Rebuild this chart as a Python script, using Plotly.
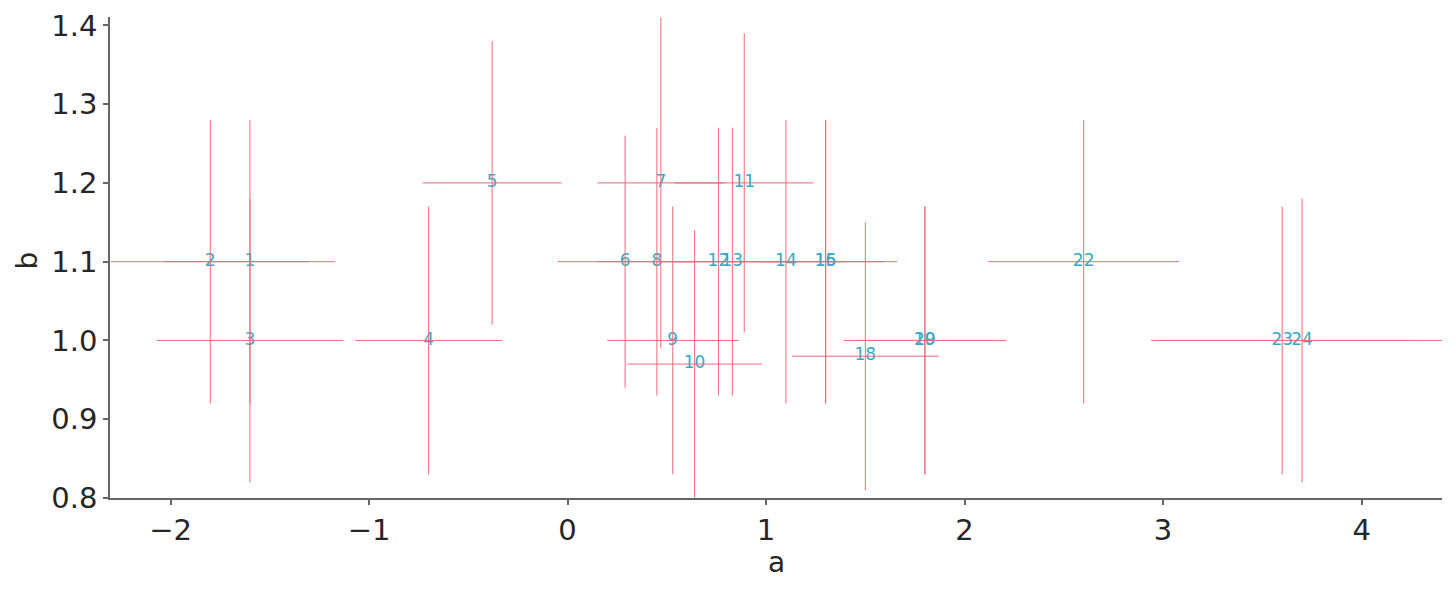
import plotly.graph_objects as go

labels = ["1", "2", "3", "4", "5", "6", "7", "8", "9", "10", "11", "12",
          "13", "14", "15", "16", "18", "19", "20", "22", "23", "24"]
a_vals = [-1.6, -1.8, -1.6, -0.7, -0.38, 0.29, 0.47, 0.45, 0.53, 0.64, 0.89, 0.76,
          0.83, 1.1, 1.3, 1.3, 1.5, 1.8, 1.8, 2.6, 3.6, 3.7]
b_vals = [1.1, 1.1, 1.0, 1.0, 1.2, 1.1, 1.2, 1.1, 1.0, 0.97, 1.2, 1.1,
          1.1, 1.1, 1.1, 1.1, 0.98, 1.0, 1.0, 1.1, 1.0, 1.0]
a_err = [0.43, 0.5, 0.47, 0.37, 0.35, 0.34, 0.32, 0.3, 0.33, 0.34, 0.35, 0.3,
         0.3, 0.3, 0.36, 0.3, 0.37, 0.41, 0.35, 0.48, 0.64, 0.76]
b_err = [0.18, 0.18, 0.18, 0.17, 0.18, 0.16, 0.21, 0.17, 0.17, 0.17, 0.19, 0.17,
         0.17, 0.18, 0.18, 0.18, 0.17, 0.17, 0.17, 0.18, 0.17, 0.18]

x_ticks = [-2, -1, 0, 1, 2, 3, 4]
y_ticks = [0.8, 0.9, 1.0, 1.1, 1.2, 1.3, 1.4]
x_title = "a"
y_title = "b"

text_color = "#35a9c6"
err_color = "#f2697b"
axis_color = "#666666"
font_family = "DejaVu Sans"

fig = go.Figure()
fig.add_trace(go.Scatter(
    x=a_vals, y=b_vals, mode="text", text=labels,
    textposition="middle center",
    textfont=dict(family=font_family, size=17, color=text_color),
    hoverinfo="skip", showlegend=False,
))
fig.add_trace(go.Scatter(
    x=a_vals, y=b_vals, mode="markers",
    marker=dict(size=0.1, opacity=0),
    error_x=dict(type="data", array=a_err, visible=True, color=err_color, thickness=1, width=0),
    error_y=dict(type="data", array=b_err, visible=True, color=err_color, thickness=1, width=0),
    hoverinfo="skip", showlegend=False,
))

fig.update_layout(
    template="none",
    width=1440, height=576,
    margin=dict(l=102, r=6, t=9, b=86),
    paper_bgcolor="white", plot_bgcolor="white",
    font=dict(family=font_family, size=29, color="#262626"),
    annotations=[
        dict(text=x_title, xref="paper", yref="paper", x=0.5, y=0,
             xanchor="center", yanchor="middle", yshift=-64, showarrow=False,
             font=dict(size=28, color="#262626")),
        dict(text=y_title, xref="paper", yref="paper", x=0, y=0.5,
             xanchor="center", yanchor="middle", xshift=-83, yshift=-3, textangle=-90,
             showarrow=False, font=dict(size=28, color="#262626")),
    ],
)
fig.update_xaxes(
    range=[-2.305, 4.405], tickvals=x_ticks,
    ticktext=[("\u2212" + str(-v)) if v < 0 else str(v) for v in x_ticks],
    showgrid=False, zeroline=False, showline=True, linecolor=axis_color, linewidth=1.5,
    ticks="outside", ticklen=5, tickwidth=1.5, tickcolor=axis_color,
    tickfont=dict(size=29), automargin=False,
)
fig.update_yaxes(
    range=[0.8, 1.4106], tickvals=y_ticks, ticktext=[f"{v:.1f}" for v in y_ticks],
    showgrid=False, zeroline=False, showline=True, linecolor=axis_color, linewidth=1.5,
    ticks="outside", ticklen=5, tickwidth=1.5, tickcolor=axis_color,
    tickfont=dict(size=29), automargin=False,
)

fig.write_html("out.html")
